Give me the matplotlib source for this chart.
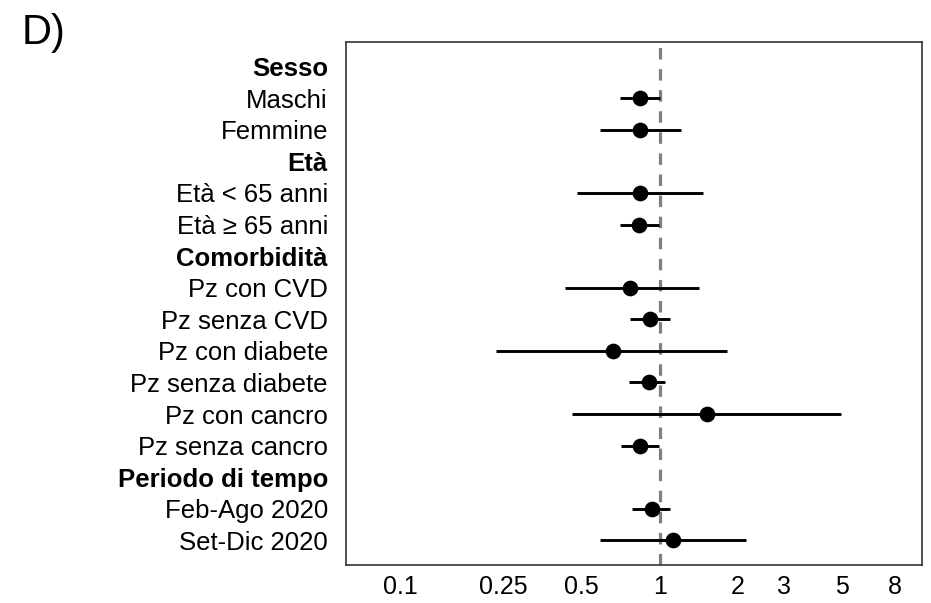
import numpy as np
import matplotlib
matplotlib.use("Agg")
import matplotlib.pyplot as plt

plt.rcParams['font.family'] = ['Liberation Sans', 'DejaVu Sans']

labels = ["Sesso", "Maschi", "Femmine",
          "Età", "Età < 65 anni", "Età ≥ 65 anni",
          "Comorbidità", "Pz con CVD", "Pz senza CVD", "Pz con diabete",
          "Pz senza diabete", "Pz con cancro", "Pz senza cancro",
          "Periodo di tempo", "Feb-Ago 2020", "Set-Dic 2020"]
headers = ["Sesso", "Età", "Comorbidità", "Periodo di tempo"]
nan = np.nan
estimate = [nan, 0.84, 0.84, nan, 0.84, 0.83, nan, 0.77, 0.92, 0.66,
            0.905, 1.52, 0.84, nan, 0.93, 1.12]
lower = [nan, 0.70, 0.59, nan, 0.48, 0.70, nan, 0.43, 0.77, 0.235,
         0.76, 0.46, 0.71, nan, 0.78, 0.59]
upper = [nan, 1.00, 1.21, nan, 1.46, 0.99, nan, 1.42, 1.09, 1.82,
         1.05, 4.98, 0.99, nan, 1.09, 2.14]
xticks = [0.1, 0.25, 0.5, 1, 2, 3, 5, 8]
xtick_labels = ["0.1", "0.25", "0.5", "1", "2", "3", "5", "8"]

W, H, DPI = 931, 603, 100
fig = plt.figure(figsize=(W / DPI, H / DPI), dpi=DPI)
ax = fig.add_axes([346 / W, 1 - 565 / H, (922 - 346) / W, (565 - 42) / H])

y = np.arange(len(labels))
est = np.array(estimate)
lo = np.array(lower)
hi = np.array(upper)
mask = ~np.isnan(est)

ax.axvline(1, color="#7f7f7f", lw=2.3, ls=(0, (3.6, 3.0)), zorder=1)
ax.hlines(y[mask], lo[mask], hi[mask], color="black", lw=2.1, zorder=2)
ax.plot(est[mask], y[mask], "o", color="black", ms=10.3, zorder=3)

ax.set_xscale("log")
ax.set_xlim(0.062, 10.2)
ax.set_ylim(len(labels) - 1 + 0.78, -0.78)
ax.set_xticks(xticks)
ax.set_xticklabels(xtick_labels, fontsize=18)
ax.xaxis.set_minor_locator(matplotlib.ticker.NullLocator())
ax.set_yticks(y)
ax.set_yticklabels(labels, fontsize=18.5)
for t in ax.get_yticklabels():
    if t.get_text() in headers:
        t.set_fontweight("bold")
ax.tick_params(axis="x", length=0, pad=7.5)
ax.tick_params(axis="y", length=0, pad=13)
for s in ax.spines.values():
    s.set_color("#333333")
    s.set_linewidth(1.2)

fig.text(22 / W, 1 - 44 / H, "D)", fontsize=30, ha="left", va="baseline")

fig.savefig("out.png", dpi=DPI)
